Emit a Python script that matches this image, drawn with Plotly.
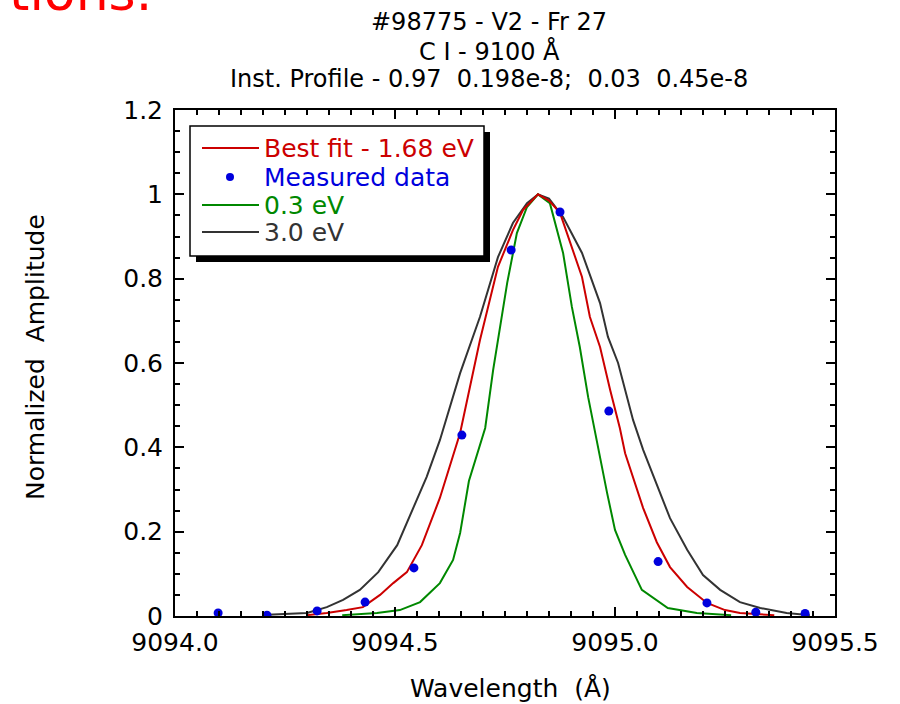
import plotly.graph_objects as go

# ---------------- data ----------------
best_x = [9094.30, 9094.345, 9094.39, 9094.427, 9094.466, 9094.496, 9094.527, 9094.561,
          9094.602, 9094.648, 9094.693, 9094.734, 9094.768, 9094.791, 9094.825, 9094.85,
          9094.875, 9094.925, 9094.943, 9094.966, 9094.989, 9095.011, 9095.023, 9095.064,
          9095.095, 9095.125, 9095.164, 9095.209, 9095.25, 9095.284, 9095.362]
best_y = [0.002, 0.007, 0.014, 0.021, 0.05, 0.078, 0.104, 0.168,
          0.28, 0.434, 0.654, 0.828, 0.915, 0.963, 1.0, 0.985,
          0.956, 0.804, 0.709, 0.638, 0.536, 0.446, 0.386, 0.256,
          0.175, 0.116, 0.069, 0.031, 0.014, 0.007, 0.002]

meas_x = [9094.098, 9094.209, 9094.323, 9094.432, 9094.543, 9094.652, 9094.764,
          9094.875, 9094.986, 9095.098, 9095.209, 9095.320, 9095.432]
meas_y = [0.007, 0.002, 0.012, 0.033, 0.114, 0.429, 0.868,
          0.958, 0.486, 0.129, 0.031, 0.009, 0.006]

low_x = [9094.38, 9094.459, 9094.511, 9094.557, 9094.602, 9094.632, 9094.648, 9094.668,
         9094.705, 9094.723, 9094.755, 9094.777, 9094.80, 9094.825, 9094.852, 9094.882,
         9094.902, 9094.92, 9094.939, 9094.961, 9094.982, 9095.0, 9095.023, 9095.061,
         9095.12, 9095.186, 9095.264]
low_y = [0.002, 0.007, 0.014, 0.033, 0.078, 0.133, 0.197, 0.32,
         0.446, 0.583, 0.79, 0.908, 0.97, 1.0, 0.979, 0.861,
         0.733, 0.638, 0.519, 0.398, 0.292, 0.204, 0.145, 0.062,
         0.019, 0.007, 0.002]

high_x = [9094.21, 9094.30, 9094.345, 9094.382, 9094.42, 9094.462, 9094.505, 9094.54,
          9094.572, 9094.602, 9094.648, 9094.693, 9094.734, 9094.768, 9094.80, 9094.825,
          9094.85, 9094.882, 9094.925, 9094.966, 9094.984, 9095.007, 9095.041, 9095.064,
          9095.091, 9095.125, 9095.164, 9095.20, 9095.239, 9095.284, 9095.33, 9095.39,
          9095.443]
high_y = [0.003, 0.007, 0.021, 0.038, 0.062, 0.104, 0.168, 0.251,
          0.33, 0.417, 0.576, 0.709, 0.851, 0.932, 0.979, 1.0,
          0.99, 0.946, 0.861, 0.742, 0.662, 0.600, 0.465, 0.394,
          0.323, 0.232, 0.157, 0.097, 0.062, 0.033, 0.019, 0.007,
          0.002]

legend_labels = ["Best fit - 1.68 eV", "Measured data", "0.3 eV", "3.0 eV"]
title_lines = ["#98775 - V2 - Fr 27", "C I - 9100 Å",
               "Inst. Profile - 0.97\u00a0 0.198e-8;\u00a0 0.03\u00a0 0.45e-8"]
x_title = "Wavelength\u00a0 (Å)"
y_title = "Normalized\u00a0 Amplitude"
x_ticks = [9094.0, 9094.5, 9095.0, 9095.5]
y_ticks = [0, 0.2, 0.4, 0.6, 0.8, 1, 1.2]

# ---------------- style ----------------
RED = "#cc0000"
BLUE = "#0000dd"
GREEN = "#008800"
GRAY = "#333333"
FONT = "DejaVu Sans"

W, H = 900, 704
L, R, T, B = 175, 65, 110, 88
PW, PH = W - L - R, H - T - B


def px(xp):
    return (xp - L) / PW


def py(yp):
    return (H - B - yp) / PH


fig = go.Figure()
fig.add_trace(go.Scatter(x=high_x, y=high_y, mode="lines",
                         line=dict(color=GRAY, width=2), name=legend_labels[3]))
fig.add_trace(go.Scatter(x=low_x, y=low_y, mode="lines",
                         line=dict(color=GREEN, width=2), name=legend_labels[2]))
fig.add_trace(go.Scatter(x=best_x, y=best_y, mode="lines",
                         line=dict(color=RED, width=2), name=legend_labels[0]))
fig.add_trace(go.Scatter(x=meas_x, y=meas_y, mode="markers",
                         marker=dict(color=BLUE, size=9), name=legend_labels[1]))

axis_common = dict(
    showline=True, linecolor="black", linewidth=2, mirror="ticks",
    ticks="inside", ticklen=9, tickwidth=1.5, tickcolor="black",
    showgrid=False, zeroline=False, automargin=False,
    tickfont=dict(family=FONT, size=25, color="black"),
)
minor_common = dict(ticks="inside", ticklen=5, tickwidth=1.5, tickcolor="black", showgrid=False)

fig.update_xaxes(range=[9094.0, 9095.5], tickvals=x_ticks, tickformat=".1f",
                 ticklabelstandoff=3,
                 minor=dict(minor_common, dtick=0.05, tick0=9094.0),
                 **axis_common)
fig.update_yaxes(range=[0, 1.2], tickvals=y_ticks,
                 ticklabelstandoff=5,
                 minor=dict(minor_common, dtick=0.05, tick0=0),
                 **axis_common)

shapes = []
# legend shadow + box
shapes.append(dict(type="rect", xref="paper", yref="paper",
                   x0=px(196), x1=px(490), y0=py(262), y1=py(132),
                   fillcolor="black", line=dict(width=0), layer="above"))
shapes.append(dict(type="rect", xref="paper", yref="paper",
                   x0=px(190), x1=px(484), y0=py(256), y1=py(126),
                   fillcolor="white", line=dict(color="black", width=1.5), layer="above"))
row_y = [148, 177, 205, 232]
row_col = [RED, BLUE, GREEN, GRAY]
for i, (yy, c) in enumerate(zip(row_y, row_col)):
    if i == 1:
        shapes.append(dict(type="circle", xref="paper", yref="paper",
                           x0=px(226), x1=px(234), y0=py(181), y1=py(173),
                           fillcolor=BLUE, line=dict(width=0), layer="above"))
    else:
        shapes.append(dict(type="line", xref="paper", yref="paper",
                           x0=px(202), x1=px(259), y0=py(yy), y1=py(yy),
                           line=dict(color=c, width=2), layer="above"))

annotations = []
for lab, yy, c in zip(legend_labels, row_y, row_col):
    annotations.append(dict(text=lab, xref="paper", yref="paper", x=px(262), y=py(yy),
                            xanchor="left", yanchor="middle", showarrow=False,
                            font=dict(family=FONT, size=25, color=c)))

for line, yy in zip(title_lines, [22, 51, 79]):
    annotations.append(dict(text=line, xref="paper", yref="paper", x=px(489), y=py(yy),
                            xanchor="center", yanchor="middle", showarrow=False,
                            font=dict(family=FONT, size=24, color="black")))

# axis titles
annotations.append(dict(text=x_title, xref="paper", yref="paper", x=px(510), y=py(688),
                        xanchor="center", yanchor="middle", showarrow=False,
                        font=dict(family=FONT, size=25, color="black")))
annotations.append(dict(text=y_title, xref="paper", yref="paper", x=px(35), y=py(357),
                        xanchor="center", yanchor="middle", showarrow=False, textangle=-90,
                        font=dict(family=FONT, size=25, color="black")))

annotations.append(dict(text="tions.", xref="paper", yref="paper", x=px(7), y=py(24),
                        xanchor="left", yanchor="bottom", showarrow=False,
                        font=dict(family=FONT, size=52, color="#ff0000")))

fig.update_layout(
    width=W, height=H,
    margin=dict(l=L, r=R, t=T, b=B),
    paper_bgcolor="white", plot_bgcolor="white",
    showlegend=False,
    shapes=shapes, annotations=annotations,
    font=dict(family=FONT, color="black"),
)

fig.write_html("out.html",
               config={"displayModeBar": False},
               post_script="document.body.style.margin='0';document.body.style.padding='0';")
